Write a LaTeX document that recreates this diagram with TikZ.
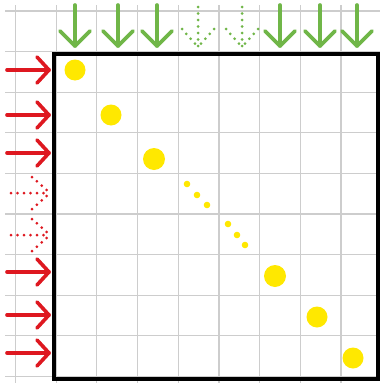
\documentclass[tikz,border=0pt]{standalone}
\definecolor{gridgray}{RGB}{205,205,205}
\definecolor{arrred}{RGB}{222,24,32}
\definecolor{arrgreen}{RGB}{112,182,72}
\definecolor{dotyellow}{RGB}{255,232,0}
\tikzset{
  gridline/.style={draw=gridgray, line width=1.3pt},
  frame/.style={draw=black, line width=4pt, line join=miter},
  redsolid/.style={draw=arrred, line width=3.6pt, line cap=round, line join=round},
  reddotted/.style={draw=arrred, line width=3pt, line cap=round, dash pattern=on 0pt off 6.5pt},
  greensolid/.style={draw=arrgreen, line width=3.6pt, line cap=round, line join=round},
  greendotted/.style={draw=arrgreen, line width=3pt, line cap=round, dash pattern=on 0pt off 6.5pt},
  bigdot/.style={fill=dotyellow},
  smalldot/.style={fill=dotyellow},
}
\begin{document}
\begin{tikzpicture}[x=1pt,y=-1pt]
\useasboundingbox (0,0) rectangle (380,383);
\fill[white] (0,0) rectangle (380,383);
% grid
\foreach \k in {0,...,9} {
  \draw[gridline] ({15.5+40.67*\k},5) -- ({15.5+40.67*\k},383);
  \draw[gridline] (5,{11+40.6*\k}) -- (380,{11+40.6*\k});
}
% frame
\draw[frame] (53.5,53.5) rectangle (378,378.5);
% big dots
\foreach \x/\y/\r in {75/70/10.5, 111/115/10.5, 154/159/11, 275/276/11, 317/317/10.5, 353/358/10.5}
  \fill[bigdot] (\x,\y) circle (\r);
% small dots
\foreach \x/\y in {187/184, 197/195, 207/205, 228/224, 237/235, 245/245}
  \fill[smalldot] (\x,\y) circle (3.3);
% red arrows
\foreach \y in {70,115,153,272,315,353} {
  \draw[redsolid] (7,\y) -- (49,\y);
  \draw[redsolid] (37,{\y-13}) -- (49,\y) -- (37,{\y+13});
}
\foreach \y in {193,235} {
  \draw[reddotted] (11,\y) -- (50,\y);
  \draw[reddotted] (32,{\y-16}) -- (50,\y);
  \draw[reddotted] (32,{\y+16}) -- (50,\y);
}
% green arrows
\foreach \x in {75,118,157,280,320,357} {
  \draw[greensolid] (\x,5) -- (\x,46);
  \draw[greensolid] ({\x-15},31) -- (\x,46) -- ({\x+15},31);
}
\foreach \x in {198,242} {
  \draw[greendotted] (\x,7) -- (\x,47);
  \draw[greendotted] ({\x-16},29) -- (\x,47);
  \draw[greendotted] ({\x+16},29) -- (\x,47);
}
\end{tikzpicture}
\end{document}
